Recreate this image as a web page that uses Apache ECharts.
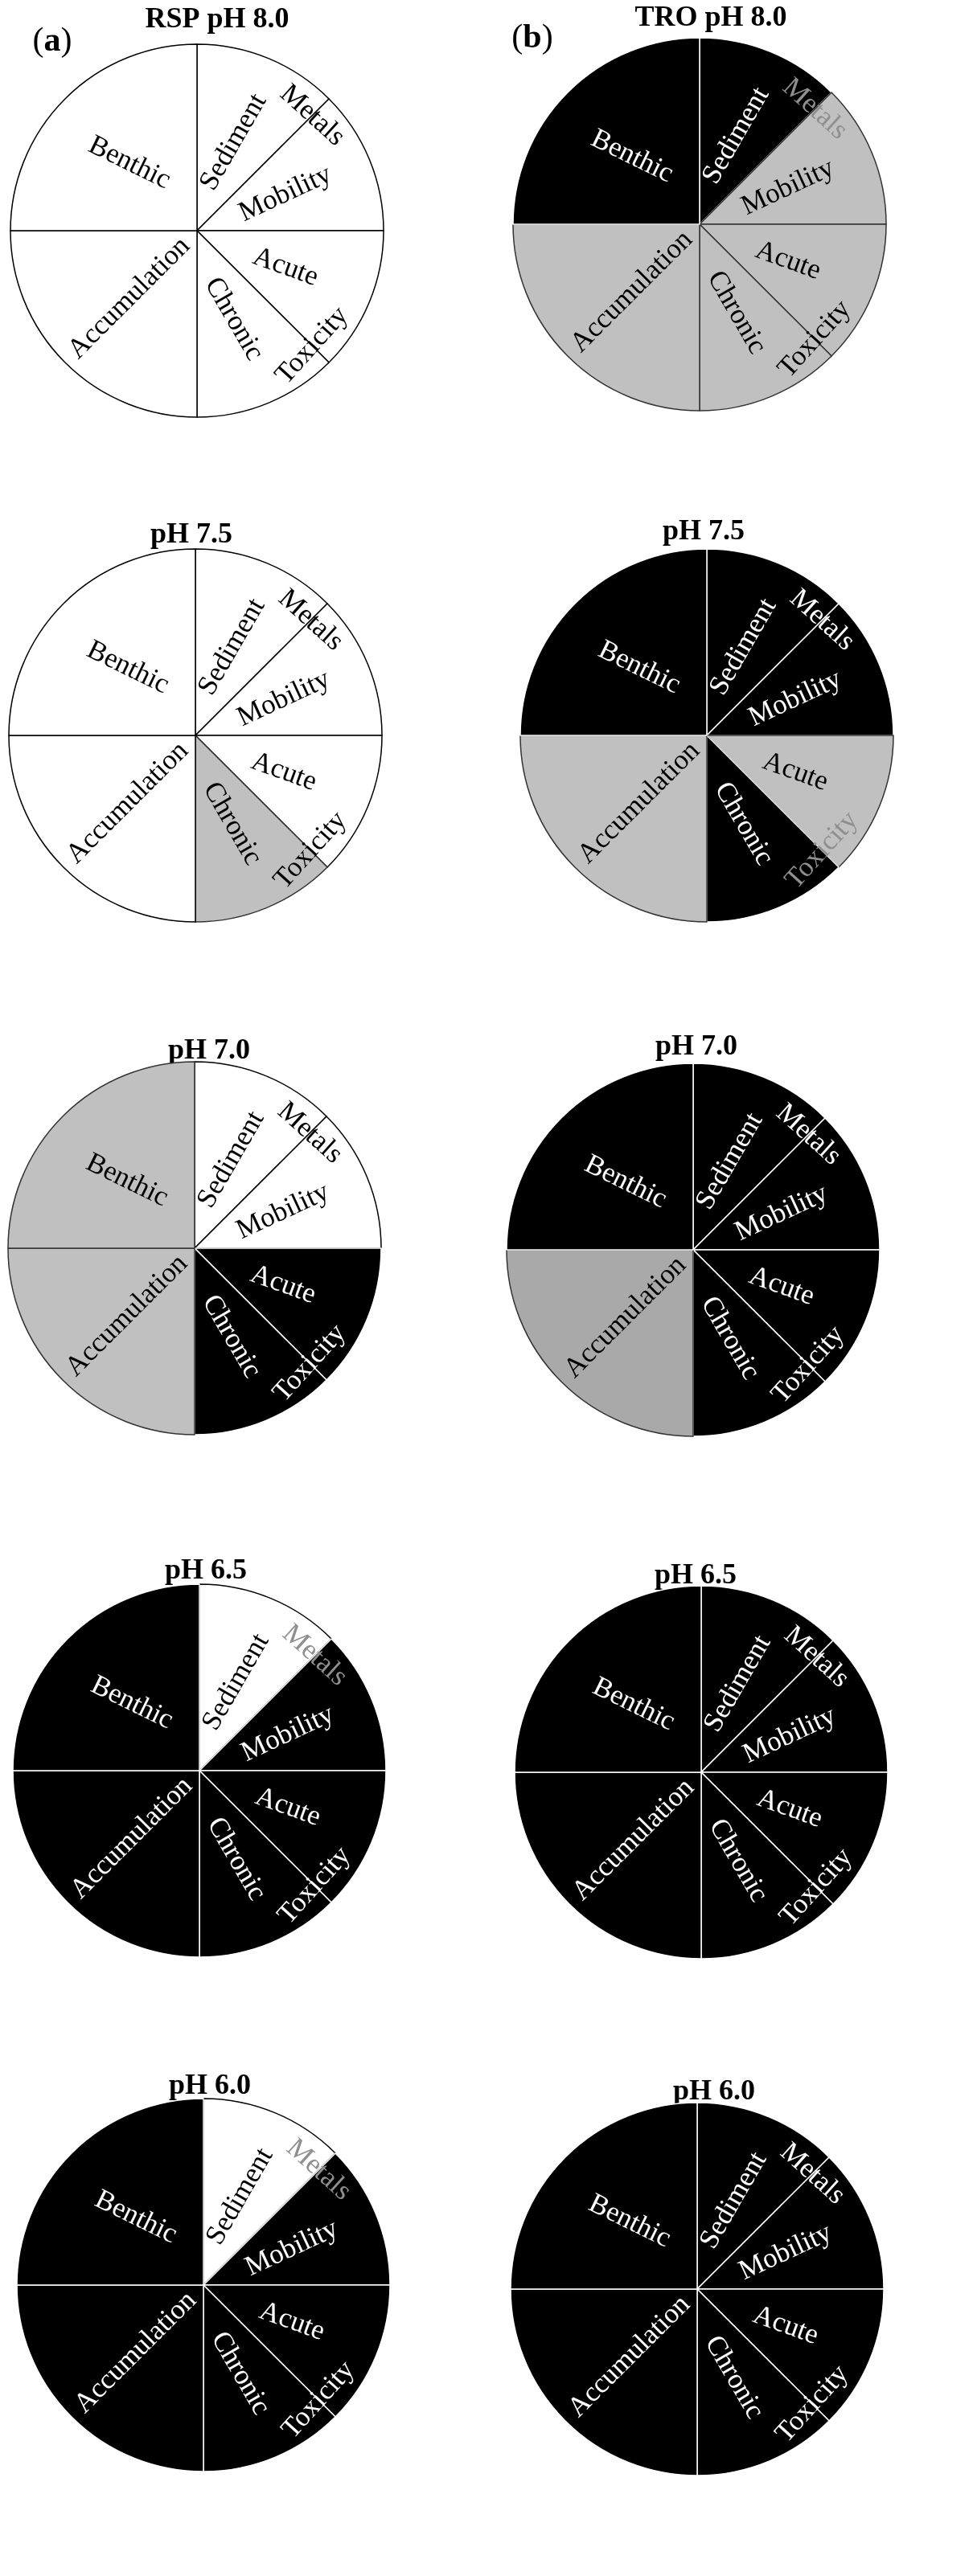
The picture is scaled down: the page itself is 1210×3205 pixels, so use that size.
<!DOCTYPE html>
<html>
<head>
<meta charset="utf-8">
<script src="https://cdn.jsdelivr.net/npm/echarts@6/dist/echarts.min.js"></script>
<style>
html, body { margin: 0; padding: 0; background: #fff; }
#chart { width: 1210px; height: 3205px; }
</style>
</head>
<body>
<div id="chart"></div>
<script>
// criteria clockwise from 12 o'clock, with the share of the wheel (degrees)
const criteria = ['Sediment', 'Mobility', 'Acute', 'Chronic', 'Accumulation', 'Benthic'];
const spans = [45, 45, 45, 45, 90, 90];
// second-word labels that sit across two criteria
const groupNames = ['Metals', 'Toxicity', '', ''];
const groupMembers = [[0, 1], [2, 3], [4], [5]];

const panelTitles = ['RSP pH 8.0', 'TRO pH 8.0', 'pH 7.5', 'pH 7.5', 'pH 7.0',
                     'pH 7.0', 'pH 6.5', 'pH 6.5', 'pH 6.0', 'pH 6.0'];

// risk level per criterion: 0 low, 1 moderate, 2 moderate-high, 3 high
const rsp80 = [0, 0, 0, 0, 0, 0];
const tro80 = [3, 1, 1, 1, 1, 3];
const rsp75 = [0, 0, 0, 1, 0, 0];
const tro75 = [3, 3, 1, 3, 1, 3];
const rsp70 = [0, 0, 3, 3, 1, 1];
const tro70 = [3, 3, 3, 3, 2, 3];
const rsp65 = [0, 3, 3, 3, 3, 3];
const tro65 = [3, 3, 3, 3, 3, 3];
const rsp60 = [0, 3, 3, 3, 3, 3];
const tro60 = [3, 3, 3, 3, 3, 3];
const panelLevels = [rsp80, tro80, rsp75, tro75, rsp70, tro70, rsp65, tro65, rsp60, tro60];

// layout
const R = 232;
const pieCenters = [[245, 287], [870, 279], [243, 915], [879, 915], [242, 1553],
                    [862, 1555], [248, 2203], [872, 2205], [253, 2843], [867, 2848]];
const titlePos = [[270, 25], [884, 23], [238, 666], [875, 662], [260, 1308],
                  [866, 1303], [256, 1955], [865, 1961], [261, 2596], [888, 2603]];
const levelFill = ['#ffffff', '#c0c0c0', '#a9a9a9', '#000000'];
const levelBorder = ['#000000', '#333333', '#333333', '#ffffff'];
const labelRotate = { Sediment: 60, Mobility: 25, Acute: -20, Chronic: -60,
                      Accumulation: 45, Benthic: -26 };
const groupRotate = { Metals: -42, Toxicity: 48 };
const serif = '"Liberation Serif", "Times New Roman", serif';

const chart = echarts.init(document.getElementById('chart'));
const series = [];
const graphic = [];

panelLevels.forEach((levels, i) => {
    const c = pieCenters[i];
    series.push({
        type: 'pie',
        center: c,
        radius: [0, R],
        startAngle: 90,
        clockwise: true,
        silent: true,
        avoidLabelOverlap: false,
        labelLine: { show: false },
        label: {
            show: true,
            position: 'inside',
            formatter: '{b}',
            fontFamily: serif,
            fontSize: 35
        },
        data: criteria.map((name, k) => ({
            name: name,
            value: spans[k],
            itemStyle: {
                color: levelFill[levels[k]],
                borderColor: levelBorder[levels[k]],
                borderWidth: 1.5
            },
            label: {
                rotate: labelRotate[name],
                color: levels[k] === 3 ? '#ffffff' : '#000000'
            }
        }))
    });
    series.push({
        type: 'pie',
        center: c,
        radius: [R * 0.72, R],
        startAngle: 90,
        clockwise: true,
        silent: true,
        avoidLabelOverlap: false,
        labelLine: { show: false },
        label: {
            position: 'inside',
            formatter: '{b}',
            fontFamily: serif,
            fontSize: 35
        },
        data: groupNames.map((name, g) => {
            const members = groupMembers[g];
            const dark = members.filter(k => levels[k] === 3).length;
            const txt = dark === members.length ? '#ffffff' : (dark === 0 ? '#000000' : '#8f8f8f');
            return {
                name: name,
                value: members.reduce((s, k) => s + spans[k], 0),
                itemStyle: { color: 'rgba(0,0,0,0)', borderWidth: 0 },
                label: { show: name !== '', rotate: groupRotate[name] || 0, color: txt }
            };
        })
    });
    graphic.push({
        type: 'text',
        x: titlePos[i][0],
        y: titlePos[i][1],
        style: {
            text: panelTitles[i],
            font: 'bold 36px ' + serif,
            fill: '#000',
            align: 'center',
            verticalAlign: 'middle'
        }
    });
});

['a', 'b'].forEach((letter, j) => {
    graphic.push({
        type: 'text',
        x: j === 0 ? 65 : 662,
        y: j === 0 ? 52 : 48,
        style: {
            text: '{p|(}{l|' + letter + '}{p|)}',
            align: 'center',
            verticalAlign: 'middle',
            rich: {
                p: { fontFamily: serif, fontSize: 42, color: '#000' },
                l: { fontFamily: serif, fontSize: 42, fontWeight: 'bold', color: '#000' }
            }
        }
    });
});

chart.setOption({
    animation: false,
    backgroundColor: '#ffffff',
    series: series,
    graphic: graphic
});

window.addEventListener('resize', () => chart.resize());
</script>
</body>
</html>
